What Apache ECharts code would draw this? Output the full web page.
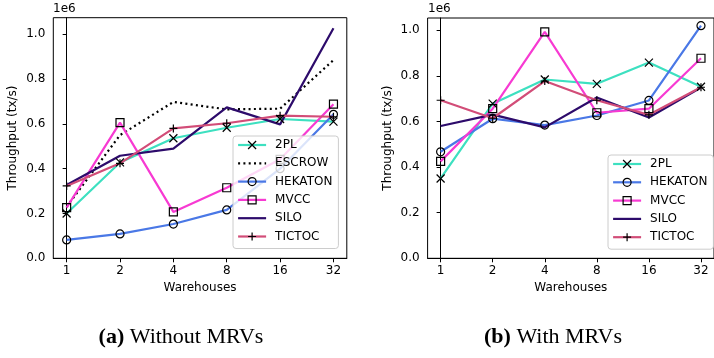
<!DOCTYPE html>
<html lang="en">
<head>
    <meta charset="UTF-8">
    <title>throughput</title>
    <script src="https://cdn.jsdelivr.net/npm/echarts@6/dist/echarts.min.js"></script>
    <style>
        html, body { margin: 0; padding: 0; background: #fff; }
    </style>
</head>
<body>
<div id="chart" style="width: 714px; height: 358px;"></div>
<script type="text/javascript">
    // warehouses on the x axis
    let categories = ['1', '2', '4', '8', '16', '32'];
    let yTicks = [0, 200000, 400000, 600000, 800000, 1000000];

    // (a) without MRVs
    let noMrv2PL     = [200000, 428000, 536000, 583000, 622000, 610000];
    let noMrvEscrow  = [230000, 550000, 698000, 665000, 668000, 885000];
    let noMrvHekaton = [82000, 109000, 153000, 216000, 400000, 643000];
    let noMrvMvcc    = [226000, 606000, 207000, 315000, 442000, 688000];
    let noMrvSilo    = [327000, 458000, 490000, 674000, 598000, 1027000];
    let noMrvTictoc  = [323000, 424000, 580000, 603000, 637000, 632000];

    // (b) with MRVs
    let mrv2PL     = [350000, 678000, 784000, 765000, 858000, 752000];
    let mrvHekaton = [467000, 612000, 584000, 626000, 692000, 1020000];
    let mrvMvcc    = [425000, 656000, 993000, 638000, 656000, 877000];
    let mrvSilo    = [580000, 630000, 574000, 705000, 617000, 749000];
    let mrvTictoc  = [693000, 614000, 777000, 693000, 629000, 750000];

    const FONT = 'DejaVu Sans';
    const X_PATH = 'path://M0,0L10,10M10,0L0,10';
    const PLUS_PATH = 'path://M5,0L5,10M0,5L10,5';

    const styles = {
        '2PL':     { color: '#3de0c0', symbol: X_PATH },
        'ESCROW':  { color: '#000000', symbol: 'none', dash: [2, 3.3] },
        'HEKATON': { color: '#4a78e6', symbol: 'circle' },
        'MVCC':    { color: '#f73ad2', symbol: 'rect' },
        'SILO':    { color: '#2d0b6b', symbol: 'none' },
        'TICTOC':  { color: '#d24d78', symbol: PLUS_PATH }
    };

    function makeSeries(name, values, idx) {
        let s = styles[name];
        return {
            type: 'line',
            name: name,
            xAxisIndex: idx,
            yAxisIndex: idx,
            data: values.map((v, i) => [i, v]),
            symbol: s.symbol,
            symbolSize: 8,
            showSymbol: s.symbol !== 'none',
            lineStyle: { color: s.color, width: 2.2, type: s.dash || 'solid' },
            itemStyle: { color: 'rgba(0,0,0,0)', borderColor: '#000', borderWidth: 1.2 },
            emphasis: { disabled: true },
            silent: true,
            animation: false
        };
    }

    function legendItems(names) {
        return names.map(n => {
            let s = styles[n];
            return {
                name: n,
                itemStyle: s.symbol === 'none'
                    ? { color: 'rgba(0,0,0,0)', borderColor: 'rgba(0,0,0,0)', borderWidth: 0 }
                    : { color: 'rgba(0,0,0,0)', borderColor: '#000', borderWidth: 1.2 },
                lineStyle: { color: s.color, width: 2.2, type: s.dash || 'solid' }
            };
        });
    }

    function yMax(arrs) {
        let all = [].concat(...arrs);
        let hi = Math.max(...all), lo = Math.min(...all);
        return hi + 0.05 * (hi - lo);
    }

    function xAxis(idx) {
        return {
            type: 'value', gridIndex: idx, min: -0.25, max: 5.25,
            name: 'Warehouses', nameLocation: 'middle', nameGap: 24,
            nameTextStyle: { fontFamily: FONT, fontSize: 12, color: '#000' },
            axisLine: { show: true, onZero: false, lineStyle: { color: '#000', width: 1 } },
            axisTick: { show: true, length: 4, lineStyle: { color: '#000' }, customValues: [0, 1, 2, 3, 4, 5] },
            axisLabel: {
                fontFamily: FONT, fontSize: 12, color: '#000', margin: 7,
                customValues: [0, 1, 2, 3, 4, 5],
                formatter: v => categories[Math.round(v)]
            },
            splitLine: { show: false }
        };
    }

    function yAxis(idx, max) {
        return {
            type: 'value', gridIndex: idx, min: 0, max: max,
            name: 'Throughput (tx/s)', nameLocation: 'middle', nameGap: 34,
            nameTextStyle: { fontFamily: FONT, fontSize: 12, color: '#000' },
            axisLine: { show: true, lineStyle: { color: '#000', width: 1 } },
            axisTick: { show: true, length: 4, lineStyle: { color: '#000' }, customValues: yTicks },
            axisLabel: {
                fontFamily: FONT, fontSize: 12, color: '#000', margin: 8,
                customValues: yTicks,
                formatter: v => (v / 1e6).toFixed(1)
            },
            splitLine: { show: false }
        };
    }

    function legend(left, top, names) {
        return {
            orient: 'vertical', left: left, top: top,
            itemWidth: 28, itemHeight: 10, itemGap: 6.3,
            padding: [3, 6, 6, 4],
            backgroundColor: 'rgba(255,255,255,0.8)',
            borderColor: '#cccccc', borderWidth: 1, borderRadius: 3,
            textStyle: { fontFamily: FONT, fontSize: 12, color: '#000', padding: [0, 0, 0, 4] },
            selectedMode: false,
            data: legendItems(names)
        };
    }

    let chart = echarts.init(document.getElementById('chart'), null, { renderer: 'canvas' });

    let option = {
        animation: false,
        backgroundColor: '#fff',
        grid: [
            { left: 53.3, top: 17.7, width: 293.5, height: 240.6, show: true, borderColor: '#000', borderWidth: 1, containLabel: false },
            { left: 427.6, top: 18, width: 294, height: 240.3, show: true, borderColor: '#000', borderWidth: 1, containLabel: false }
        ],
        xAxis: [xAxis(0), xAxis(1)],
        yAxis: [
            yAxis(0, yMax([noMrv2PL, noMrvEscrow, noMrvHekaton, noMrvMvcc, noMrvSilo, noMrvTictoc])),
            yAxis(1, yMax([mrv2PL, mrvHekaton, mrvMvcc, mrvSilo, mrvTictoc]))
        ],
        legend: [
            legend(233, 136, ['2PL', 'ESCROW', 'HEKATON', 'MVCC', 'SILO', 'TICTOC']),
            legend(608, 155, ['2PL', 'HEKATON', 'MVCC', 'SILO', 'TICTOC'])
        ],
        graphic: [
            { type: 'text', left: 53, top: 3, style: { text: '1e6', font: '12px "DejaVu Sans"', fill: '#000' } },
            { type: 'text', left: 428, top: 3, style: { text: '1e6', font: '12px "DejaVu Sans"', fill: '#000' } },
            {
                type: 'text', x: 181, y: 348,
                style: {
                    text: '{b|(a)} Without MRVs', align: 'center', verticalAlign: 'bottom',
                    font: '22px "Liberation Serif"', fill: '#000',
                    rich: { b: { fontFamily: 'Liberation Serif', fontSize: 22, fontWeight: 'bold' } }
                }
            },
            {
                type: 'text', x: 553, y: 348,
                style: {
                    text: '{b|(b)} With MRVs', align: 'center', verticalAlign: 'bottom',
                    font: '22px "Liberation Serif"', fill: '#000',
                    rich: { b: { fontFamily: 'Liberation Serif', fontSize: 22, fontWeight: 'bold' } }
                }
            }
        ],
        series: [
            makeSeries('2PL', noMrv2PL, 0),
            makeSeries('ESCROW', noMrvEscrow, 0),
            makeSeries('HEKATON', noMrvHekaton, 0),
            makeSeries('MVCC', noMrvMvcc, 0),
            makeSeries('SILO', noMrvSilo, 0),
            makeSeries('TICTOC', noMrvTictoc, 0),
            makeSeries('2PL', mrv2PL, 1),
            makeSeries('HEKATON', mrvHekaton, 1),
            makeSeries('MVCC', mrvMvcc, 1),
            makeSeries('SILO', mrvSilo, 1),
            makeSeries('TICTOC', mrvTictoc, 1)
        ]
    };

    chart.setOption(option);
</script>
</body>
</html>
